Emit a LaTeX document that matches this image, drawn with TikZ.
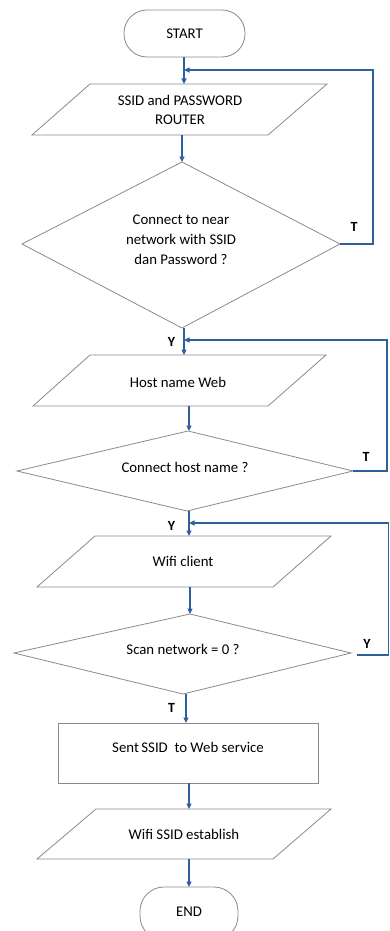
\documentclass[tikz,border=0pt]{standalone}
\usepackage{fontspec}
\setmainfont{Carlito}
\usetikzlibrary{arrows.meta}
\definecolor{conncol}{HTML}{2E619B}
\definecolor{shapegray}{HTML}{8A8A8A}
\begin{document}
\begin{tikzpicture}[x=1pt,y=-1pt,
  shp/.style={draw=shapegray,line width=0.8pt},
  conn/.style={draw=conncol,line width=1.1pt,-{Triangle[length=5.5pt,width=5pt]}},
  txt/.style={align=center,inner sep=0pt,font=\fontsize{14.8}{19.5}\selectfont},
  lbl/.style={inner sep=0pt,font=\fontsize{14}{16}\selectfont\bfseries}]
\useasboundingbox (0,0) rectangle (390,931);
% START
\draw[shp,rounded corners=23pt] (124,10) rectangle (245,57);
\node[txt] (start) at (184.5,33.5) {START};
\coordinate (startb) at (184,57);
% P1
\draw[shp] (90,84) -- (327,84) -- (268,135) -- (32,135) -- cycle;
\node[txt] (p1) at (180,110) {SSID and PASSWORD\\ROUTER};
\coordinate (p1t) at (184,84);
\coordinate (p1b) at (182,135);
\coordinate (j1) at (184,70);
% D1
\draw[shp] (182,162) -- (340,244) -- (182,328) -- (22,244) -- cycle;
\node[txt,font=\fontsize{14.8}{20}\selectfont] (d1) at (181,240) {Connect to near\\network with SSID\\dan Password ?};
\coordinate (d1t) at (182,162);
\coordinate (d1r) at (340,244);
\coordinate (d1b) at (184,328);
\coordinate (c1a) at (373,244);
\coordinate (c1b) at (373,70);
\node[lbl] (t1) at (354,226.5) {T};
\node[lbl] (y1) at (171.5,342) {Y};
% P2
\draw[shp] (90,355) -- (326,355) -- (268,406) -- (33,406) -- cycle;
\node[txt] (p2) at (178,382) {Host name Web};
\coordinate (p2t) at (184,355);
\coordinate (j2) at (184,340);
\coordinate (p2b) at (189,406);
% D2
\draw[shp] (188,431) -- (353,471) -- (187,511) -- (17,471) -- cycle;
\node[txt] (d2) at (185,467) {Connect host name ?};
\coordinate (d2t) at (189,431);
\coordinate (d2r) at (353,471);
\coordinate (d2b) at (189,511);
\coordinate (c2a) at (387,471);
\coordinate (c2b) at (387,340);
\node[lbl] (t2) at (366,456.5) {T};
\node[lbl] (y2) at (171.5,525.5) {Y};
% P3
\draw[shp] (95,536) -- (331,536) -- (273,587) -- (37,587) -- cycle;
\node[txt] (p3) at (183,561.5) {Wifi client};
\coordinate (p3t) at (189,536);
\coordinate (j3) at (189,523);
\coordinate (p3b) at (190,587);
% D3
\draw[shp] (190,614) -- (351,653) -- (183,694) -- (14,653) -- cycle;
\node[txt] (d3) at (183,649) {Scan network = 0 ?};
\coordinate (d3t) at (190,614);
\coordinate (d3r) at (357,655);
\coordinate (d3b) at (186,694);
\coordinate (c3a) at (388.5,655);
\coordinate (c3b) at (388.5,523);
\node[lbl] (y3) at (367,644) {Y};
\node[lbl] (t3) at (171.5,708) {T};
% Rect
\draw[shp] (58,723) rectangle (318,783);
\node[txt] (r1) at (188,747.5) {Sent\,SSID \ to Web service};
\coordinate (r1t) at (186,723);
\coordinate (r1b) at (189,783);
% P4
\draw[shp] (96,809) -- (331,809) -- (273,859) -- (37,859) -- cycle;
\node[txt] (p4) at (184,834) {Wifi SSID establish};
\coordinate (p4t) at (189,809);
\coordinate (p4b) at (189,859);
% END
\draw[shp,rounded corners=24pt] (140,887) rectangle (238,940);
\node[txt] (endn) at (189,912) {END};
\coordinate (endt) at (189,887);
% connectors
\draw[conn] (startb) -- (p1t);
\draw[conn] (p1b) -- (d1t);
\draw[conn] (d1r) -- (c1a) -- (c1b) -- (j1);
\draw[conn] (d1b) -- (p2t);
\draw[conn] (d2r) -- (c2a) -- (c2b) -- (j2);
\draw[conn] (p2b) -- (d2t);
\draw[conn] (d2b) -- (p3t);
\draw[conn] (d3r) -- (c3a) -- (c3b) -- (j3);
\draw[conn] (p3b) -- (d3t);
\draw[conn] (d3b) -- (r1t);
\draw[conn] (r1b) -- (p4t);
\draw[conn] (p4b) -- (endt);
\end{tikzpicture}
\end{document}
